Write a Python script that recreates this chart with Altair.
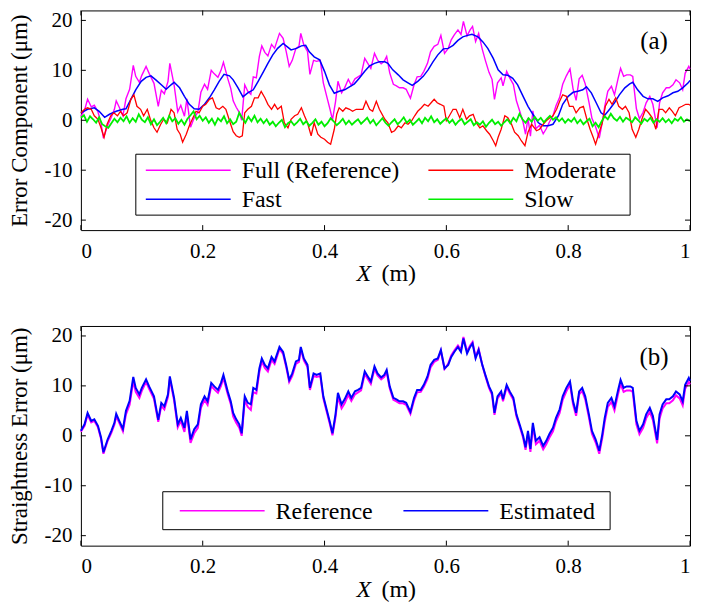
import altair as alt
import pandas as pd

# ---------------- data ----------------
x_ticks = [0, 0.2, 0.4, 0.6, 0.8, 1.0]
y_ticks = [-20, -10, 0, 10, 20]

# straightness error (reference / estimated), panel (b) and "Full" in panel (a)
x_ref = [0.000, 0.006, 0.011, 0.017, 0.022, 0.028, 0.033, 0.037, 0.044, 0.050,
         0.055, 0.058, 0.063, 0.069, 0.074, 0.080, 0.086, 0.090, 0.096, 0.100,
         0.107, 0.112, 0.120, 0.127, 0.132, 0.137, 0.143, 0.146, 0.153, 0.159,
         0.164, 0.170, 0.174, 0.180, 0.186, 0.192, 0.197, 0.203, 0.208, 0.214,
         0.219, 0.225, 0.230, 0.234, 0.241, 0.246, 0.250, 0.255, 0.260, 0.264,
         0.269, 0.274, 0.279, 0.283, 0.288, 0.293, 0.297, 0.302, 0.307, 0.313,
         0.318, 0.326, 0.332, 0.337, 0.342, 0.347, 0.353, 0.358, 0.361, 0.366,
         0.372, 0.376, 0.382, 0.387, 0.393, 0.398, 0.404, 0.409, 0.413, 0.418,
         0.422, 0.428, 0.433, 0.439, 0.444, 0.450, 0.455, 0.460, 0.466, 0.471,
         0.476, 0.482, 0.487, 0.493, 0.498, 0.502, 0.507, 0.513, 0.518, 0.523,
         0.529, 0.534, 0.541, 0.547, 0.552, 0.558, 0.563, 0.569, 0.574, 0.580,
         0.586, 0.591, 0.597, 0.603, 0.608, 0.613, 0.619, 0.624, 0.628, 0.634,
         0.639, 0.643, 0.648, 0.653, 0.659, 0.664, 0.670, 0.675, 0.679, 0.684,
         0.690, 0.693, 0.699, 0.704, 0.710, 0.715, 0.721, 0.726, 0.730, 0.734,
         0.738, 0.742, 0.747, 0.753, 0.759, 0.764, 0.769, 0.775, 0.780, 0.786,
         0.791, 0.797, 0.803, 0.808, 0.813, 0.818, 0.823, 0.828, 0.834, 0.839,
         0.845, 0.851, 0.856, 0.860, 0.865, 0.871, 0.876, 0.882, 0.886, 0.891,
         0.896, 0.902, 0.906, 0.912, 0.917, 0.923, 0.928, 0.934, 0.939, 0.946,
         0.950, 0.955, 0.961, 0.966, 0.972, 0.977, 0.983, 0.988, 0.992, 0.998,
         1.000]

estimated = [1.0, 2.3, 4.6, 3.0, 3.3, 2.0, -0.3, -3.3, -0.7, 1.0,
             2.6, 4.4, 3.0, 1.4, 5.0, 7.0, 11.8, 9.6, 8.3, 9.6,
             11.3, 9.9, 7.9, 3.2, 6.6, 5.9, 8.3, 11.9, 7.6, 2.3,
             3.6, 1.6, 5.0, -0.7, 1.3, 2.3, 6.3, 7.9, 6.9, 10.6,
             9.9, 9.2, 10.6, 12.2, 8.9, 6.9, 4.6, 3.3, 2.3, 0.5,
             7.9, 6.6, 6.3, 9.6, 9.2, 13.5, 15.5, 14.2, 13.5, 15.8,
             14.9, 17.8, 16.8, 14.2, 11.2, 12.5, 14.9, 15.2, 17.8, 15.5,
             14.2, 9.6, 12.5, 12.2, 12.5, 7.9, 5.0, 2.6, 0.5, 4.3,
             8.6, 6.3, 7.3, 8.9, 7.6, 8.9, 9.2, 9.6, 12.9, 11.9,
             10.9, 13.9, 12.5, 11.7, 12.2, 13.2, 9.9, 7.6, 7.3, 6.9,
             6.9, 6.6, 4.8, 7.6, 9.2, 9.2, 10.2, 11.9, 14.2, 15.2,
             15.5, 17.2, 13.5, 14.2, 15.8, 16.8, 17.8, 16.8, 19.5, 16.5,
             17.8, 18.5, 15.5, 17.2, 14.2, 12.2, 9.9, 8.6, 4.6, 7.9,
             8.9, 7.3, 10.2, 8.9, 7.6, 4.3, 2.0, 0.0, -2.3, 1.0,
             -2.6, 2.6, -1.0, -0.3, -2.0, -1.0, 0.3, 1.6, 3.6, 5.3,
             7.9, 9.6, 10.9, 6.9, 4.6, 8.9, 9.6, 7.9, 4.3, 1.0,
             -0.7, -3.0, 0.3, 3.6, 6.6, 7.6, 5.9, 9.2, 11.2, 9.6,
             9.9, 9.9, 9.6, 3.0, 1.0, 2.3, 4.3, 5.6, 4.0, -0.8,
             4.3, 6.3, 7.3, 7.3, 7.9, 8.9, 8.3, 6.9, 10.2, 11.6,
             11.0]

reference = [0.8, 2.0, 4.2, 2.7, 3.0, 1.7, -0.6, -3.6, -1.0, 0.6,
             2.2, 3.9, 2.6, 0.9, 4.3, 6.2, 11.0, 8.8, 7.6, 9.0,
             10.8, 9.4, 7.4, 2.8, 6.0, 5.3, 7.8, 11.4, 7.1, 1.7,
             3.0, 0.8, 4.3, -1.4, 0.5, 1.6, 5.6, 7.2, 6.2, 10.0,
             9.3, 8.6, 10.0, 11.6, 8.4, 6.4, 3.9, 2.6, 1.6, 0.0,
             7.1, 5.8, 5.2, 8.7, 8.5, 12.8, 14.9, 13.6, 12.9, 15.2,
             14.4, 17.4, 16.4, 13.8, 10.8, 12.0, 14.4, 14.8, 17.4, 15.1,
             13.8, 9.2, 12.0, 11.8, 12.0, 7.5, 4.6, 2.2, 0.1, 3.7,
             7.8, 5.5, 6.5, 8.2, 7.0, 8.3, 8.7, 9.1, 12.4, 11.4,
             10.4, 13.4, 12.1, 11.3, 11.8, 12.8, 9.5, 7.2, 6.9, 6.5,
             6.5, 6.2, 4.4, 7.1, 8.7, 8.8, 9.8, 11.4, 13.7, 14.8,
             15.2, 17.0, 13.4, 14.4, 16.1, 17.1, 18.1, 17.2, 19.8, 16.9,
             18.1, 18.8, 15.8, 17.4, 14.2, 12.0, 9.6, 8.2, 4.2, 7.5,
             8.5, 6.9, 9.8, 8.5, 7.2, 3.9, 1.6, -0.4, -2.8, 0.5,
             -3.2, 1.9, -1.7, -1.0, -2.7, -1.7, -0.4, 0.9, 2.9, 4.6,
             7.2, 8.9, 10.3, 6.3, 4.0, 8.3, 9.0, 7.3, 3.7, 0.4,
             -1.3, -3.6, -0.4, 2.8, 5.8, 6.8, 5.1, 8.4, 10.4, 8.8,
             9.1, 9.1, 8.8, 2.3, 0.3, 1.6, 3.5, 4.8, 3.2, -1.5,
             3.5, 5.5, 6.5, 6.5, 7.1, 8.1, 7.5, 6.1, 9.4, 10.8,
             10.3]

# fast component (smooth blue curve)
x_fast = [0.000, 0.011, 0.022, 0.030, 0.039, 0.047, 0.058, 0.069, 0.074, 0.082,
          0.090, 0.099, 0.107, 0.115, 0.123, 0.132, 0.140, 0.148, 0.153, 0.162,
          0.170, 0.178, 0.186, 0.194, 0.203, 0.211, 0.219, 0.227, 0.235, 0.244,
          0.250, 0.258, 0.266, 0.274, 0.283, 0.291, 0.300, 0.307, 0.315, 0.323,
          0.332, 0.340, 0.345, 0.354, 0.362, 0.369, 0.375, 0.383, 0.392, 0.400,
          0.408, 0.416, 0.424, 0.433, 0.441, 0.449, 0.457, 0.466, 0.474, 0.482,
          0.490, 0.499, 0.504, 0.512, 0.521, 0.529, 0.537, 0.544, 0.553, 0.562,
          0.570, 0.578, 0.586, 0.595, 0.603, 0.611, 0.619, 0.627, 0.635, 0.642,
          0.652, 0.660, 0.668, 0.677, 0.685, 0.693, 0.701, 0.709, 0.717, 0.726,
          0.734, 0.742, 0.751, 0.759, 0.767, 0.775, 0.784, 0.791, 0.800, 0.808,
          0.816, 0.824, 0.830, 0.838, 0.846, 0.854, 0.860, 0.868, 0.876, 0.884,
          0.893, 0.901, 0.906, 0.914, 0.923, 0.931, 0.939, 0.947, 0.955, 0.964,
          0.972, 0.980, 0.988, 0.997, 1.000]
fast = [1.5, 2.2, 2.5, 1.8, 0.6, 1.2, 1.8, 2.2, 2.3, 4.2,
        6.1, 7.8, 8.6, 8.9, 8.1, 7.1, 6.2, 7.1, 7.6, 6.5,
        4.8, 3.2, 2.3, 2.2, 3.2, 4.5, 6.1, 7.8, 9.2, 8.9,
        8.1, 6.5, 4.7, 5.5, 6.1, 7.8, 9.8, 11.4, 13.1, 14.4,
        15.4, 14.6, 14.1, 14.4, 14.9, 15.0, 13.7, 12.7, 12.1, 9.8,
        7.1, 5.4, 5.8, 6.1, 6.7, 7.3, 8.4, 9.8, 10.9, 11.4,
        11.7, 11.7, 11.4, 10.1, 9.1, 8.1, 7.5, 7.0, 7.8, 8.8,
        10.1, 11.7, 13.1, 14.3, 14.4, 15.0, 16.0, 16.7, 17.0, 17.2,
        16.7, 15.7, 14.4, 12.4, 10.1, 9.1, 9.0, 8.4, 7.1, 4.8,
        2.8, 1.2, -0.5, -1.1, -1.1, -0.8, 0.9, 3.2, 4.8, 5.6,
        5.8, 6.1, 6.7, 5.5, 3.5, 1.5, 1.0, 2.2, 3.5, 5.1,
        6.5, 7.3, 7.6, 6.1, 4.8, 4.3, 4.3, 3.8, 4.5, 4.9,
        5.5, 5.8, 6.5, 7.5, 8.0]

# moderate component (red)
x_moderate = [0.000, 0.006, 0.011, 0.017, 0.022, 0.028, 0.033, 0.038, 0.043, 0.049,
              0.054, 0.060, 0.065, 0.070, 0.076, 0.082, 0.087, 0.092, 0.098, 0.103,
              0.109, 0.114, 0.120, 0.125, 0.131, 0.136, 0.142, 0.148, 0.153, 0.158,
              0.163, 0.167, 0.173, 0.178, 0.184, 0.189, 0.194, 0.200, 0.205, 0.211,
              0.216, 0.222, 0.227, 0.233, 0.238, 0.244,
              0.250, 0.255, 0.260, 0.265, 0.269, 0.274, 0.280, 0.285, 0.291, 0.296,
              0.302, 0.307, 0.313, 0.318, 0.323, 0.329, 0.334, 0.340, 0.345, 0.351,
              0.356, 0.362, 0.367, 0.372, 0.378, 0.383, 0.389, 0.394, 0.400, 0.405,
              0.410, 0.416, 0.420, 0.424, 0.430, 0.435, 0.441, 0.446, 0.452, 0.457,
              0.463, 0.468, 0.474, 0.479, 0.485, 0.490,
              0.499, 0.504, 0.510, 0.515, 0.521, 0.526, 0.532, 0.537, 0.543, 0.548,
              0.553, 0.559, 0.564, 0.570, 0.575, 0.580, 0.585, 0.590, 0.596, 0.600,
              0.605, 0.611, 0.616, 0.622, 0.627, 0.633, 0.638, 0.644, 0.649, 0.655,
              0.660, 0.666, 0.671, 0.677, 0.681, 0.685, 0.690, 0.696, 0.701, 0.707,
              0.712, 0.718, 0.723, 0.729, 0.734, 0.740,
              0.748, 0.753, 0.759, 0.764, 0.770, 0.775, 0.781, 0.786, 0.791, 0.797,
              0.802, 0.808, 0.813, 0.819, 0.825, 0.830, 0.836, 0.841, 0.845, 0.850,
              0.856, 0.861, 0.867, 0.872, 0.878, 0.883, 0.889, 0.894, 0.900, 0.905,
              0.911, 0.916, 0.921, 0.927, 0.932, 0.938, 0.944, 0.949, 0.955, 0.960,
              0.966, 0.971, 0.976, 0.982, 0.987, 0.993, 0.998, 1.000]
moderate = [1.5, 2.2, 2.5, 2.2, 0.9, 0.2, -1.5, -3.4, -0.8, 0.9,
            1.5, 0.9, 1.8, 0.9, 1.5, 4.2, 5.1, 2.8, 2.2, 0.9,
            2.2, 0.2, -1.5, -2.4, -0.8, 0.2, -0.5, 2.2, 1.5, -1.8,
            -2.8, -4.4, -2.8, -1.1, 0.5, 1.8, 1.5, 2.8, 3.2, 4.2,
            4.5, 2.5, 2.2, 2.8, 2.2, -0.1,
            -2.3, -3.1, -3.4, -3.1, 1.5, 2.2, 2.8, 4.5, 4.5, 5.8,
            4.5, 3.2, 2.2, 3.2, 2.2, 2.8, -0.5, -1.5, 0.2, 0.9,
            1.2, 2.5, 0.9, -0.5, -3.1, -0.5, -2.8, -3.4, -3.8, -4.4,
            -4.8, -1.8, 1.2, 2.5, 1.8, 2.5, 2.2, 1.8, 2.2, 2.2,
            2.2, 3.8, 2.2, 1.8, 3.8, 2.2,
            0.2, -0.5, -2.4, -2.1, -1.1, -1.5, -0.5, -0.8, -0.1, 0.9,
            1.8, 2.5, 3.2, 2.8, 3.5, 4.2, 3.5, 3.2, 2.8, -0.1,
            0.9, 2.2, 2.2, 0.5, 2.2, 0.2, 0.9, 1.2, -0.5, -1.5,
            -1.1, -2.1, -2.8, -4.1, -5.1, -3.4, -1.8, 0.9, 0.5, -0.8,
            -2.4, -3.1, -4.1, -5.1, -2.4, -0.8,
            -2.1, -1.8, -0.8, -0.1, 0.5, 0.9, 2.2, 3.8, 5.1, 4.8,
            2.8, 2.8, 1.5, 2.5, 2.8, 0.5, -1.8, -3.4, -4.8, -2.8,
            -0.5, 2.8, 4.2, 3.2, 4.5, 2.8, 2.2, 2.8, 1.5, -1.8,
            -3.4, -1.8, 0.2, 2.2, 1.5, 0.5, -1.8, 2.2, 2.2, 1.5,
            2.5, 1.8, 0.9, 2.5, 2.8, 3.2, 3.2, 3.0]

# slow component (green), sampled every 0.005 m
x_slow = [round(i * 0.005, 3) for i in range(201)]
slow = [0.5, 1.0, -0.3, 0.8, 0.2, -0.5, 0.6, -0.8, -1.2, -1.5, -0.6,
        0.3, -0.4, 0.5, -0.2, 0.8, -0.5, 0.4, -0.3, 1.2, 0.1,
        -0.4, 0.6, -0.8, 0.2, -1.0, -0.3, 0.5, -0.6, 0.9, -0.2,
        0.4, -0.7, 0.1, -0.9, 0.3, 1.0, 1.8, 0.2, 0.9, -0.1,
        0.6, -0.5, 0.3, -0.9, 0.4, -0.2, 0.8, -0.6, 0.2, -0.8,
        -0.3, 1.5, 0.4, -0.5, 0.7, -0.2, 0.9, -0.4, 0.3, -0.6,
        0.2, -0.9, -0.3, -1.2, -0.5, 0.1, -1.4, -0.6, -0.2, -1.0,
        -0.4, 0.3, -0.8, -0.2, -1.1, -0.5, 0.2, -0.9, -0.3, -1.2,
        -0.6, 0.4, -0.2, -1.0, -0.4, 0.3, -0.8, -0.1, -0.9, -0.3,
        0.2, -0.7, -0.1, 0.5, -0.6, 0.1, -1.0, -0.3, 0.4, -0.5,
        -1.1, -0.4, 0.2, -0.8, -0.2, 0.6, -0.5, 0.1, -0.9, -0.3,
        0.3, -0.6, 0.5, -0.2, 0.8, -0.4, 0.2, -0.7, -0.1, 0.4,
        -0.5, 0.1, -0.9, -0.2, 0.3, -0.8, -0.3, 0.2, -1.0, -0.4,
        -0.9, -0.2, -1.3, -0.5, 0.1, -0.8, -0.3, -1.1, -0.4, 0.2,
        -0.6, 0.5, -0.2, 1.3, 0.2, -0.5, 0.4, -0.3, 0.7, -0.1,
        0.5, -0.4, 0.3, 0.9, 0.1, 0.6, -0.2, 0.4, -0.5, 0.2,
        -0.3, 0.5, -0.6, 0.1, -0.8, -0.2, 0.3, -1.2, -0.5, -1.4,
        -0.2, 0.8, 0.2, 1.3, 0.4, -0.1, 0.7, -0.3, 0.5, 0.1,
        -0.4, 0.6, 0.0, -0.7, 0.3, -0.2, 0.5, -0.5, 0.2, -0.3,
        0.4, -0.4, 0.2, -0.6, 0.3, -0.1, 0.6, -0.3, 0.2, -0.2]

# legend entries in reading order (row by row)
names_a = ["Full (Reference)", "Moderate", "Fast", "Slow"]
colors_a = ["#FF00FF", "#FF0000", "#0000FF", "#00EE00"]
names_b = ["Reference", "Estimated"]
colors_b = ["#FF00FF", "#0000FF"]
color_of = dict(zip(names_a + names_b, colors_a + colors_b))

# ---------------- build tables ----------------
def series(xs, vs, name):
    return pd.DataFrame({"x": xs, "v": vs, "s": name})

df_a = pd.concat([series(x_ref, reference, "Full (Reference)"),
                  series(x_fast, fast, "Fast"),
                  series(x_moderate, moderate, "Moderate"),
                  series(x_slow, slow, "Slow")], ignore_index=True)
df_b = pd.concat([series(x_ref, reference, "Reference"),
                  series(x_ref, estimated, "Estimated")], ignore_index=True)

W, H = 610, 220
FONT = "Liberation Serif"

XSCALE = alt.Scale(domain=[0, 1], nice=False, zero=False)
YSCALE = alt.Scale(domain=[-22, 22], nice=False)
XAXIS = alt.Axis(values=x_ticks, title=None, ticks=False, domain=False, grid=False,
                 labelExpr="datum.value + ''", labelPadding=10, labelFontSize=21)


def yaxis(title):
    return alt.Axis(values=y_ticks, title=title, ticks=False, domain=False, grid=False,
                    labelExpr="datum.value + ''", labelPadding=9, labelFontSize=21,
                    titleFontSize=23, titlePadding=12)


def legend_layers(entries, box, cols, rows):
    """entries: list of names (row-major); box: (x1, x2, y1, y2) in px;
    cols: list of symbol-left px per column; rows: list of row-centre px."""
    out = []
    x1, x2, y1, y2 = box
    out.append(alt.Chart(pd.DataFrame({"k": [0]})).mark_rect(
        fill="white", stroke="black", strokeWidth=1).encode(
        x=alt.value(x1), x2=alt.value(x2), y=alt.value(y1), y2=alt.value(y2)))
    for i, name in enumerate(entries):
        cx = cols[i % len(cols)]
        cy = rows[i // len(cols)]
        d = alt.Chart(pd.DataFrame({"s": [name]}))
        out.append(d.mark_rule(color=color_of[name], strokeWidth=1.5).encode(
            x=alt.value(cx), x2=alt.value(cx + 85), y=alt.value(cy)))
        out.append(d.mark_text(font=FONT, fontSize=24, color="black", align="left",
                               baseline="middle").encode(
            text="s:N", x=alt.value(cx + 96), y=alt.value(cy + 1)))
    return out


def panel(df, draw_order, widths, ytitle, tag, legend):
    yax = yaxis(ytitle)
    layers = []
    for name, w in zip(draw_order, widths):
        layers.append(alt.Chart(df).transform_filter(alt.datum.s == name)
                      .mark_line(strokeWidth=w, color=color_of[name])
                      .encode(x=alt.X("x:Q", scale=XSCALE, axis=XAXIS),
                              y=alt.Y("v:Q", scale=YSCALE, axis=yax)))
    tx = alt.Chart(pd.DataFrame({"x": x_ticks}))
    ty = alt.Chart(pd.DataFrame({"v": y_ticks}))
    rule = dict(color="black", strokeWidth=1)
    xe = alt.X("x:Q", scale=XSCALE, axis=XAXIS)
    ye = alt.Y("v:Q", scale=YSCALE, axis=yax)
    layers += [
        tx.mark_rule(**rule).encode(x=xe, y=alt.value(H), y2=alt.value(H - 5)),
        tx.mark_rule(**rule).encode(x=xe, y=alt.value(0), y2=alt.value(5)),
        ty.mark_rule(**rule).encode(y=ye, x=alt.value(0), x2=alt.value(5)),
        ty.mark_rule(**rule).encode(y=ye, x=alt.value(W), x2=alt.value(W - 5)),
    ]
    layers += legend
    txt = alt.Chart(pd.DataFrame({"t": [tag]}))
    layers.append(txt.mark_text(font=FONT, fontSize=25, color="black", align="center",
                                baseline="middle")
                  .encode(text="t:N", x=alt.value(574), y=alt.value(31)))
    xt = alt.Chart(pd.DataFrame({"a": ["X"], "b": ["(m)"]}))
    layers.append(xt.mark_text(font=FONT, fontSize=24, fontStyle="italic", color="black",
                               align="left", baseline="alphabetic")
                  .encode(text="a:N", x=alt.value(276), y=alt.value(271)))
    layers.append(xt.mark_text(font=FONT, fontSize=24, color="black",
                               align="left", baseline="alphabetic")
                  .encode(text="b:N", x=alt.value(301), y=alt.value(271)))
    return alt.layer(*layers).properties(width=W, height=H)


leg_a = legend_layers(names_a, (55, 550, 144, 205), [65, 348], [160, 189])
leg_b = legend_layers(names_b, (82, 530, 166, 204), [99, 323], [185])

pa = panel(df_a, ["Full (Reference)", "Fast", "Moderate", "Slow"], [1.4, 1.5, 1.3, 1.8],
           "Error Component (μm)", "(a)", leg_a)
pb = panel(df_b, ["Reference", "Estimated"], [2.0, 2.0],
           "Straightness Error (μm)", "(b)", leg_b)

chart = (alt.vconcat(pa, pb, spacing=37)
         .properties(padding={"left": 0, "top": 0, "right": 0, "bottom": 0})
         .configure_view(stroke="black", strokeWidth=1)
         .configure_axis(labelFont=FONT, titleFont=FONT, labelColor="black",
                         titleColor="black", titleFontWeight="normal"))

chart.save("out.html", embed_options={"renderer": "svg", "actions": False})
